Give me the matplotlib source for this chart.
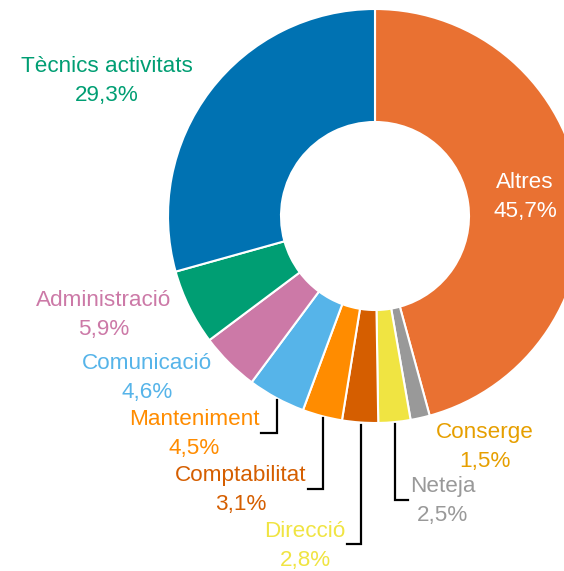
import matplotlib.pyplot as plt
import numpy as np

# Data (clockwise from top)
categories = ['Altres', 'Conserge', 'Neteja', 'Direcció', 'Comptabilitat',
              'Manteniment', 'Comunicació', 'Administració', 'Tècnics activitats']
values = [45.7, 1.5, 2.5, 2.8, 3.1, 4.5, 4.6, 5.9, 29.3]
slice_colors = ['#E97132', '#999999', '#F0E442', '#D55E00', '#FF8C00',
                '#56B4E9', '#CC79A7', '#009E73', '#0072B2']
label_colors = ['white', '#E69F00', '#999999', '#F0E442', '#D55E00',
                '#FF8C00', '#56B4E9', '#CC79A7', '#009E73']

# label centres in pixels (from top-left)
label_pos = [(525, 197), (485, 447), (443, 501), (305, 546), (241, 490),
             (194, 434), (147, 378), (104, 315), (107, 81)]
# leader lines: (end y, end x) for labels that have one, pixels
leaders = {'Manteniment': (433, 261), 'Comptabilitat': (489, 308),
           'Direcció': (544, 347), 'Neteja': (500, 408)}

W, H = 564, 571
plt.rcParams['font.family'] = ['Liberation Sans', 'DejaVu Sans']

fig = plt.figure(figsize=(W / 100, H / 100), dpi=100)
ax = fig.add_axes([0, 0, 1, 1])

cx, cy, R = 375, H - 216, 207
ax.pie(values, colors=slice_colors, startangle=90, counterclock=False,
       center=(cx, cy), radius=R,
       wedgeprops=dict(width=113, edgecolor='white', linewidth=1.5))
ax.set_xlim(0, W)
ax.set_ylim(0, H)
ax.set_aspect('equal')
ax.axis('off')

def fmt(v):
    return f"{v:.1f}".replace('.', ',') + '%'

cum = np.cumsum([0] + values[:-1])
for i, (cat, v) in enumerate(zip(categories, values)):
    x, y = label_pos[i]
    ax.text(x, H - y, f"{cat}\n{fmt(v)}", ha='center', va='center',
            fontsize=16.2, color=label_colors[i], linespacing=1.55)
    if cat in leaders:
        ang = np.deg2rad((cum[i] + v / 2) / 100 * 360)
        sx = cx + R * np.sin(ang)
        sy = cy + R * np.cos(ang) - 2
        ey, ex = leaders[cat]
        ax.plot([sx, sx, ex], [sy, H - ey, H - ey], color='black', lw=1.6,
                solid_joinstyle='miter')

fig.savefig('out.png', dpi=100)
